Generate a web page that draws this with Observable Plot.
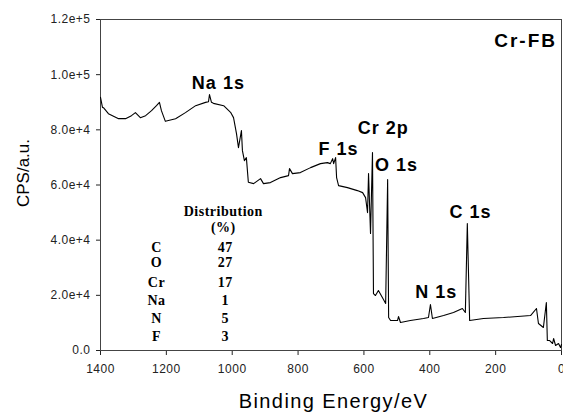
<!DOCTYPE html>
<html><head><meta charset="utf-8">
<script src="https://cdn.jsdelivr.net/npm/d3@7"></script>
<script src="https://cdn.jsdelivr.net/npm/@observablehq/plot@0.6"></script>
<style>
html,body{margin:0;padding:0;background:#fff;}
#chart svg{display:block;}
g[aria-label$="tick label"] { letter-spacing: 0.5px; }
g[font-size="18"] { letter-spacing: 1px; }
g[font-size="19"] { letter-spacing: 2px; }
g[font-size="20"] { letter-spacing: 1.4px; }
g[font-size="14"] { letter-spacing: 0.5px; }
</style>
</head><body><div id="chart"></div>
<script>
// ---- data ----
const energy = [1400,1394,1391,1376,1345,1324,1306,1294,1279,1263,
  1245,1230,1221,1215,1203,1172,1142,1111,1081,1072,
  1069,1063,1057,1026,1005,996,987,981,972,969,
  963,957,951,935,914,905,884,853,829,826,
  817,793,762,732,711,702,695,692,686,683,
  677,650,620,604,595,589,586,580,574,571,
  565,556,544,534,528,525,519,498,495,489,
  459,419,404,398,392,358,328,301,292,286,
  279,237,176,94,76,70,55,46,43,36,
  27,24,18,9,3,0];
const counts = [91800,88150,88040,85870,84050,84050,85140,86230,84420,85140,
  86950,88760,89960,86950,83080,84050,86230,88760,89960,90210,
  92750,89960,89600,88760,86340,84420,78620,73550,79710,72460,
  68840,69920,60970,60500,62320,60500,60870,62680,63400,65940,
  64130,64490,66300,67750,68110,67750,69560,67750,69920,62680,
  59780,59050,57970,57240,55430,50000,64130,42390,71740,20650,
  19930,21740,19200,17030,61950,11960,10870,10870,12320,10140,
  10870,11590,11960,16670,11590,12680,13770,15220,13770,46010,
  10870,11590,11960,12680,15220,9780,8330,17390,3620,3620,
  2540,4350,1810,2540,1090,2170];

const peakLabels = ["Na 1s","F 1s","Cr 2p","O 1s","N 1s","C 1s"];
const sampleName = "Cr-FB";
const elements = ["C","O","Cr","Na","N","F"];
const distribution = [47,27,17,1,5,3];
const tableHeader = ["Distribution","(%)"];

const xTicks = [1400,1200,1000,800,600,400,200,0];
const yTicks = [0,20000,40000,60000,80000,100000,120000];
const yTickLabels = ["0.0","2.0e+4","4.0e+4","6.0e+4","8.0e+4","1.0e+5","1.2e+5"];

// ---- layout (annotation anchors in data units) ----
const peakLabelPos = [[1042,94900],[677,71000],[541,78600],[501,65000],[380,18950],[276,48200]];
const samplePos = [109,109900];
const tableColE = [1230,1021];
const headerY = [48900,42900];
const rowY = [35600,30200,23200,16650,9900,3600];

const spectrum = energy.map((e,i)=>({E:e, I:counts[i]}));
const peaks = peakLabels.map((t,i)=>({t, E:peakLabelPos[i][0], I:peakLabelPos[i][1]}));
const rows = elements.map((el,i)=>({el, v:String(distribution[i]), I:rowY[i]}));
const header = tableHeader.map((t,i)=>({t, I:headerY[i]}));

const sans = "Arial, 'Liberation Sans', Helvetica, sans-serif";
const serif = "'Times New Roman', 'Liberation Serif', Times, serif";

const chart = Plot.plot({
  width: 563, height: 412,
  marginLeft: 100, marginRight: 2, marginTop: 19, marginBottom: 62,
  style: {fontSize: "12px", fontFamily: sans, color: "#222", background: "#fff"},
  x: {domain: [1400, 0], ticks: xTicks, tickSize: 5, tickPadding: 9, label: null, tickFormat: d => String(d)},
  y: {domain: [0, 120000], ticks: yTicks, tickSize: 4, tickPadding: 6, label: null,
      tickFormat: d => yTickLabels[yTicks.indexOf(d)]},
  marks: [
    Plot.frame({stroke: "#444", strokeWidth: 1}),
    Plot.line(spectrum, {x: "E", y: "I", stroke: "#000", strokeWidth: 1.1}),
    Plot.text(peaks, {x: "E", y: "I", text: "t", fontSize: 18, fontWeight: "bold", fontFamily: sans, fill: "#000", lineAnchor: "bottom", textAnchor: "middle"}),
    Plot.text([sampleName], {x: samplePos[0], y: samplePos[1], text: d => d, fontSize: 19, fontWeight: "bold", fontFamily: sans, fill: "#000", lineAnchor: "bottom", textAnchor: "middle"}),
    Plot.text(header, {x: tableColE[1], y: "I", text: "t", dx: -2, fontSize: 14, fontWeight: "bold", fontFamily: serif, fill: "#000", lineAnchor: "bottom", textAnchor: "middle"}),
    Plot.text(rows, {x: tableColE[0], y: "I", text: "el", fontSize: 14, fontWeight: "bold", fontFamily: serif, fill: "#000", lineAnchor: "bottom", textAnchor: "middle"}),
    Plot.text(rows, {x: tableColE[1], y: "I", text: "v", fontSize: 14, fontWeight: "bold", fontFamily: serif, fill: "#000", lineAnchor: "bottom", textAnchor: "middle"}),
    Plot.text(["Binding Energy/eV"], {frameAnchor: "bottom", dx: 2.5, dy: 57, fontSize: 20, fontFamily: sans, fill: "#000", lineAnchor: "bottom", textAnchor: "middle"}),
    Plot.text(["CPS/a.u."], {frameAnchor: "left", rotate: -90, dx: -72, dy: -12, fontSize: 17, fontFamily: sans, fill: "#000", lineAnchor: "bottom", textAnchor: "middle"})
  ]
});
document.getElementById("chart").appendChild(chart);
</script></body></html>
